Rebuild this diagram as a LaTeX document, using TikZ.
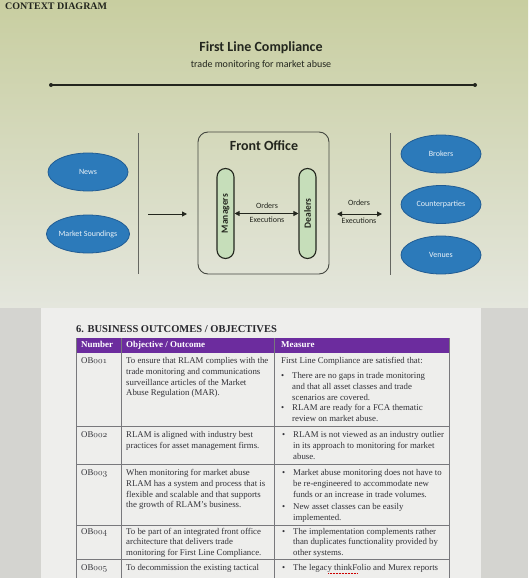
\documentclass[tikz,border=0pt]{standalone}
\usepackage{fontspec}
\setmainfont{Liberation Serif}
\newfontfamily\carlito{Carlito}
\usetikzlibrary{arrows.meta,shapes.geometric}

\definecolor{screenTop}{RGB}{200,206,160}
\definecolor{screenBot}{RGB}{228,230,221}
\definecolor{paper}{RGB}{238,238,236}
\definecolor{desk}{RGB}{212,212,208}
\definecolor{ellBlue}{RGB}{44,122,186}
\definecolor{ellEdge}{RGB}{32,92,148}
\definecolor{pillGreen}{RGB}{198,222,186}
\definecolor{ink}{RGB}{35,38,30}
\definecolor{hdrPurple}{RGB}{108,44,158}
\definecolor{docText}{RGB}{50,50,56}
\definecolor{gridGrey}{RGB}{120,120,124}

% old-style figures for the objective numbers
\newcommand\osfig[1]{{\usefont{OML}{cmm}{m}{it}#1}}
\newcommand\tbul{\makebox[11pt][l]{\textbullet}}
\newcommand\tind{\hspace*{11pt}}
% fixed first-line height, so a cell's top edge sits 7pt above its first baseline
\newcommand\topstrut{\rule{0pt}{7pt}}

\tikzset{
  >={Triangle[length=5pt,width=5pt]},
  entity/.style={ellipse, draw=ellEdge, line width=0.8pt, fill=ellBlue,
    minimum width=80pt, minimum height=38pt, inner sep=0pt,
    text=white!90!ellBlue, font=\carlito\fontsize{8}{9}\selectfont},
  pill/.style={rectangle, rounded corners=8.5pt, draw=ink, line width=1.1pt,
    fill=pillGreen, minimum width=17pt, minimum height=90pt, inner sep=0pt,
    font=\carlito\bfseries\fontsize{9.5}{10}\selectfont, text=ink},
  flowlbl/.style={font=\carlito\fontsize{8}{9}\selectfont, text=ink, inner sep=0pt},
  flow/.style={draw=ink, line width=1pt},
  divider/.style={draw=ink!70, line width=0.7pt},
  cell/.style={align=left, inner sep=0pt, anchor=north west, text=docText,
    font=\fontsize{8.8}{10.7}\selectfont},
  hdr/.style={inner sep=0pt, anchor=mid west, text=white,
    font=\bfseries\fontsize{9}{10}\selectfont},
  grid/.style={draw=gridGrey, line width=0.6pt}
}

\begin{document}
\begin{tikzpicture}[x=1pt,y=-1pt]
\useasboundingbox (0,0) rectangle (528,578);

% backgrounds: monitor above, printed page below
\shade[top color=screenTop, bottom color=screenBot] (0,0) rectangle (528,308);
\fill[desk] (0,308) rectangle (528,578);
\fill[paper] (41,308) rectangle (481,578);

% ---------- context diagram ----------
\node[anchor=mid west, inner sep=0pt, text=ink, font=\bfseries\fontsize{10}{11}\selectfont]
  (ctx) at (5,7) {CONTEXT DIAGRAM};
\node[inner sep=0pt, text=ink, font=\carlito\bfseries\fontsize{14}{16}\selectfont]
  (title) at (261,48) {First Line Compliance};
\node[inner sep=0pt, text=ink, font=\carlito\fontsize{10}{12}\selectfont]
  (subtitle) at (261,65) {trade monitoring for market abuse};

\coordinate (ruleL) at (51,85);
\coordinate (ruleR) at (475,85);
\draw[draw=ink, line width=1.5pt] (ruleL) -- (ruleR);
\fill[ink] (ruleL) circle (2pt) (ruleR) circle (2pt);

\coordinate (divLt) at (138,133);
\coordinate (divLb) at (138,274);
\coordinate (divRt) at (390,133);
\coordinate (divRb) at (390,275);
\draw[divider] (divLt) -- (divLb);
\draw[divider] (divRt) -- (divRb);

\node[entity] (news) at (88,172) {News};
\node[entity] (sound) at (88,234) {Market Soundings};
\node[entity] (brokers) at (441,154) {Brokers};
\node[entity] (cparties) at (441,204.5) {Counterparties};
\node[entity] (venues) at (441,255) {Venues};

\node[rectangle, rounded corners=10pt, draw=ink!85, line width=0.9pt,
  minimum width=131pt, minimum height=142pt, inner sep=0pt] (fo) at (263.5,203) {};
\node[inner sep=0pt, text=ink, font=\carlito\bfseries\fontsize{14}{16}\selectfont]
  (fotitle) at (264,146) {Front Office};

\node[pill] (mgr) at (225.5,213.5) {\rotatebox{90}{Managers}};
\node[pill] (dlr) at (307.5,213.5) {\rotatebox{90}{Dealers}};

\draw[flow, <->] (mgr.east) -- (dlr.west);
\node[flowlbl] (inOrd) at (267,206) {Orders};
\node[flowlbl] (inExe) at (267,220) {Executions};

\coordinate (inA) at (148,214);
\coordinate (inB) at (187,214);
\draw[flow, ->] (inA) -- (inB);

\coordinate (outA) at (337,214);
\coordinate (outB) at (382,214);
\draw[flow, <->] (outA) -- (outB);
\node[flowlbl] (outOrd) at (359,203) {Orders};
\node[flowlbl] (outExe) at (359,221) {Executions};

% ---------- business outcomes table ----------
\node[anchor=mid west, inner sep=0pt, text=docText!80!black,
  font=\bfseries\fontsize{10.5}{12}\selectfont] (sect) at (76,330)
  {6. BUSINESS OUTCOMES / OBJECTIVES};

\fill[hdrPurple] (76,338) rectangle (449,353);
\node[hdr] (hNum) at (81,345.5) {Number};
\node[hdr] (hObj) at (126,345.5) {Objective / Outcome};
\node[hdr] (hMea) at (281,345.5) {Measure};

\draw[grid] (76,338) -- (76,578) (121,353) -- (121,578) (274,353) -- (274,578) (449,338) -- (449,578);
\draw[grid] (76,426) -- (449,426) (76,464) -- (449,464) (76,525) -- (449,525) (76,559) -- (449,559);
\draw[grid] (121,338) -- (121,353) (274,338) -- (274,353);

% row OB001 (first baseline at 363.5)
\node[cell] (n1) at (81,356.5) {\topstrut OB\osfig{001}};
\node[cell] (o1) at (126,356.5) {\topstrut To ensure that RLAM complies with the\\trade monitoring and communications\\surveillance articles of the Market\\Abuse Regulation (MAR).};
\node[cell] (m1) at (281,356.5) {\topstrut First Line Compliance are satisfied that:\\[4.3pt]
  \tbul There are no gaps in trade monitoring\\\tind and that all asset classes and trade\\\tind scenarios are covered.\\
  \tbul RLAM are ready for a FCA thematic\\\tind review on market abuse.};

% row OB002 (first baseline at 437.5)
\node[cell] (n2) at (81,430.5) {\topstrut OB\osfig{002}};
\node[cell] (o2) at (126,430.5) {\topstrut RLAM is aligned with industry best\\practices for asset management firms.};
\node[cell] (m2) at (282,430.5) {\topstrut\tbul RLAM is not viewed as an industry outlier\\\tind in its approach to monitoring for market\\\tind abuse.};

% row OB003 (first baseline at 475.5)
\node[cell] (n3) at (81,468.5) {\topstrut OB\osfig{003}};
\node[cell] (o3) at (126,468.5) {\topstrut When monitoring for market abuse\\RLAM has a system and process that is\\flexible and scalable and that supports\\the growth of RLAM's business.};
\node[cell] (m3) at (282,468.5) {\topstrut\tbul Market abuse monitoring does not have to\\\tind be re-engineered to accommodate new\\\tind funds or an increase in trade volumes.\\[1.5pt]
  \tbul New asset classes can be easily\\\tind implemented.};

% row OB004 (first baseline at 534)
\node[cell] (n4) at (81,527) {\topstrut OB\osfig{004}};
\node[cell] (o4) at (126,527) {\topstrut To be part of an integrated front office\\architecture that delivers trade\\monitoring for First Line Compliance.};
\node[cell] (m4) at (282,527) {\topstrut\tbul The implementation complements rather\\\tind than duplicates functionality provided by\\\tind other systems.};

% row OB005 (first baseline at 570.5)
\node[cell] (n5) at (81,563.5) {\topstrut OB\osfig{005}};
\node[cell] (o5) at (126,563.5) {\topstrut To decommission the existing tactical};
\node[cell] (m5) at (282,563.5) {\topstrut\tbul The legacy thinkFolio and Murex reports};
\draw[red!80!black, line width=0.5pt, densely dotted] (328,573) -- (357,573);

\end{tikzpicture}
\end{document}
